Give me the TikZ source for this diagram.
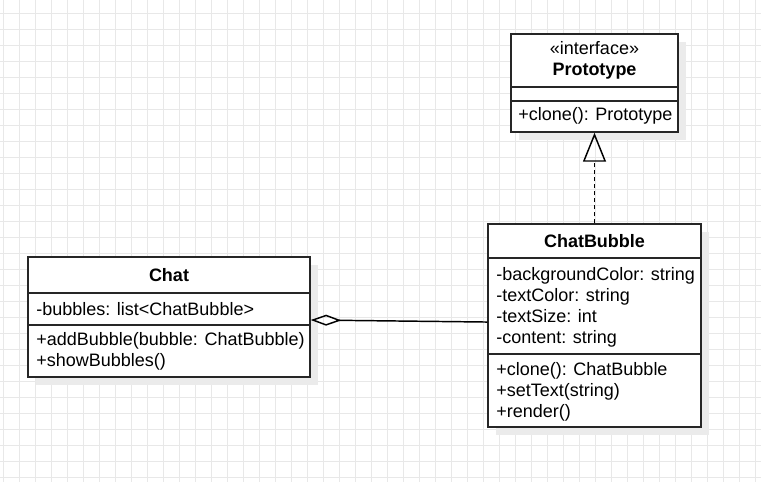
\documentclass[tikz,border=0pt]{standalone}
\usepackage{fontspec}
\setmainfont{Liberation Sans}
\usepackage{tikz}
\usetikzlibrary{positioning,arrows.meta,shadows}

\begin{document}
\begin{tikzpicture}[x=0.75pt,y=-0.75pt,
  classbox/.style={draw=black!85, line width=1.1pt, fill=white, rectangle, inner sep=0pt,
    drop shadow={shadow xshift=6pt, shadow yshift=-6pt, fill=black!8, opacity=1}},
  member/.style={anchor=base west, inner sep=0pt, font=\fontsize{13.5}{15.75}\selectfont},
  classname/.style={anchor=base, inner sep=0pt, font=\fontsize{13.5}{15.75}\selectfont\bfseries},
  stereo/.style={anchor=base, inner sep=0pt, font=\fontsize{13.5}{15.75}\selectfont},
  sepline/.style={draw=black!85, line width=1.1pt},
  gridline/.style={black!9, line width=0.75pt}]

  % Set the page and the grid
  \useasboundingbox (0,0) rectangle (761,482);
  \fill[white] (0,0) rectangle (761,482);
  \foreach \gx in {0,...,47}
    \draw[gridline] (3.3+16*\gx,0) -- (3.3+16*\gx,482);
  \foreach \gy in {0,...,29}
    \draw[gridline] (0,13.3+16*\gy) -- (761,13.3+16*\gy);

  % Draw the interface Prototype
  \node[classbox, minimum width=125.25pt, minimum height=73.5pt] (proto) at (594.5,83) {};
  \draw[sepline] (proto.west |- 0,87) -- (proto.east |- 0,87);
  \draw[sepline] (proto.west |- 0,101) -- (proto.east |- 0,101);
  \node[stereo] (protoStereo) at (594.5,54.3) {«interface»};
  \node[classname] (protoName) at (594.5,75) {Prototype};
  \node[member] (protoClone) at (518,120) {+clone(): Prototype};

  % Draw the class ChatBubble
  \node[classbox, minimum width=159.75pt, minimum height=152.25pt] (bubble) at (594.5,325.5) {};
  \draw[sepline] (bubble.west |- 0,258) -- (bubble.east |- 0,258);
  \draw[sepline] (bubble.west |- 0,354) -- (bubble.east |- 0,354);
  \node[classname] (bubbleName) at (594.5,247.7) {ChatBubble};
  \node[member] (bubbleBg) at (496,280.3) {-backgroundColor: string};
  \node[member] (bubbleColor) at (496,301.3) {-textColor: string};
  \node[member] (bubbleSize) at (496,322.3) {-textSize: int};
  \node[member] (bubbleContent) at (496,343.3) {-content: string};
  \node[member] (bubbleClone) at (496,375.3) {+clone(): ChatBubble};
  \node[member] (bubbleSet) at (496,396.3) {+setText(string)};
  \node[member] (bubbleRender) at (496,417.3) {+render()};

  % Draw the class Chat
  \node[classbox, minimum width=211.5pt, minimum height=90pt] (chat) at (169,317) {};
  \draw[sepline] (chat.west |- 0,293) -- (chat.east |- 0,293);
  \draw[sepline] (chat.west |- 0,325) -- (chat.east |- 0,325);
  \node[classname] (chatName) at (169,281.7) {Chat};
  \node[member] (chatList) at (36,315) {-bubbles: list<ChatBubble>};
  \node[member] (chatAdd) at (36,345.5) {+addBubble(bubble: ChatBubble)};
  \node[member] (chatShow) at (36,366.5) {+showBubbles()};

  % Realization and aggregation
  \draw[line width=1.1pt, dash pattern=on 3pt off 2.25pt,
    -{Triangle[open, length=21.75pt, width=17.25pt, line width=1.1pt]}]
    (bubble.north) -- (proto.south);
  \draw[line width=1.1pt,
    -{Diamond[open, length=23pt, width=8.25pt, line width=1.1pt]}]
    ([yshift=2.6pt]bubble.west) -- ([yshift=-2.25pt]chat.east);

\end{tikzpicture}
\end{document}
